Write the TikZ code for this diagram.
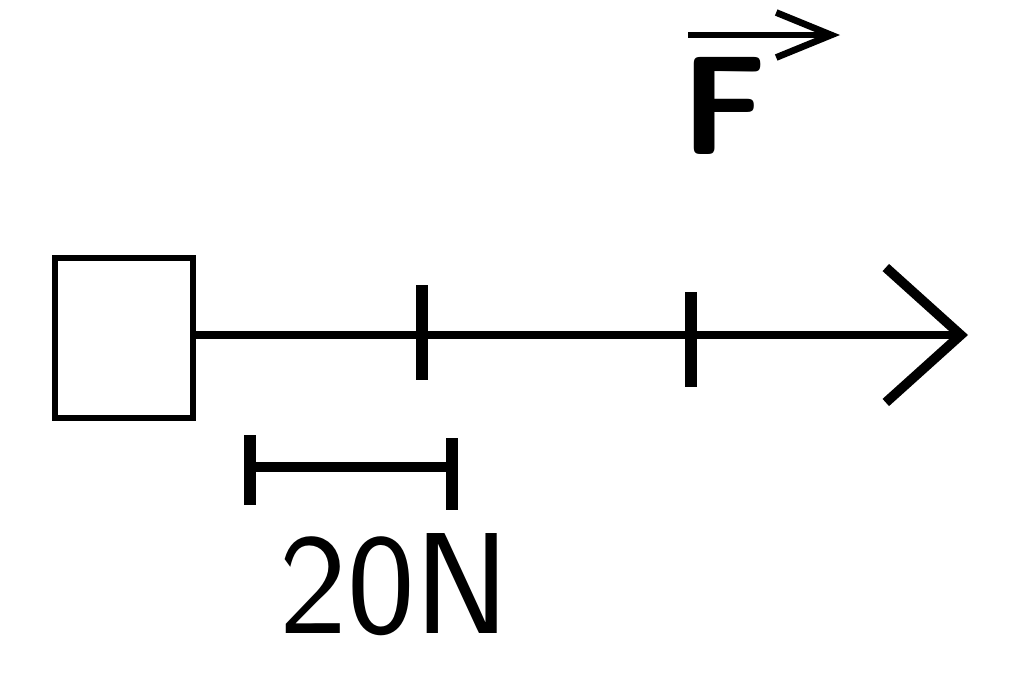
\documentclass[tikz,border=0pt]{standalone}
\usepackage{tikz}
\usetikzlibrary{positioning, arrows.meta}

\begin{document}
\begin{tikzpicture}[x=0.02cm, y=-0.02cm, >=latex]

        % Define styles
        \tikzstyle{body} = [rectangle, draw, line width=3.4pt, minimum width=2.76cm, minimum height=3.2cm, inner sep=0pt]
        \tikzstyle{axis} = [line width=5pt, -{Straight Barb[length=1.5cm, width=2.7cm, line width=5.5pt]}]
        \tikzstyle{tick} = [line width=6.5pt]
        \tikzstyle{scalebar} = [line width=5.5pt]
        \tikzstyle{vecarrow} = [line width=3.8pt, -{Straight Barb[length=1.1cm, width=0.9cm, line width=3.8pt]}]

        \useasboundingbox (0,0) rectangle (1024,691);

        % Components
        \node (box) [body] at (124,338) {};
        \coordinate (tip) at (968,335);
        \coordinate (tickA top) at (422,285);
        \coordinate (tickA bot) at (422,380);
        \coordinate (tickB top) at (691,292);
        \coordinate (tickB bot) at (691,387);
        \coordinate (barL) at (250,467);
        \coordinate (barR) at (452,467);
        \node (force) [font=\sffamily\bfseries\fontsize{80}{80}\selectfont] at (724,106) {F};
        \coordinate (vecL) at (688,35);
        \coordinate (vecR) at (840,35);
        \node (scale) [font=\sffamily\fontsize{82}{82}\selectfont, inner sep=0pt] at (395,585) {20N};

        % Arrows
        \draw [axis] (box.east |- tip) -- (tip);
        \draw [tick] (tickA top) -- (tickA bot);
        \draw [tick] (tickB top) -- (tickB bot);
        \draw [vecarrow] (vecL) -- (vecR);

        % Scale
        \draw [scalebar] (barL) -- (barR);
        \draw [tick] ([yshift=0.64cm]barL) -- ([yshift=-0.76cm]barL);
        \draw [tick] ([yshift=0.58cm]barR) -- ([yshift=-0.86cm]barR);

      \end{tikzpicture}
\end{document}
